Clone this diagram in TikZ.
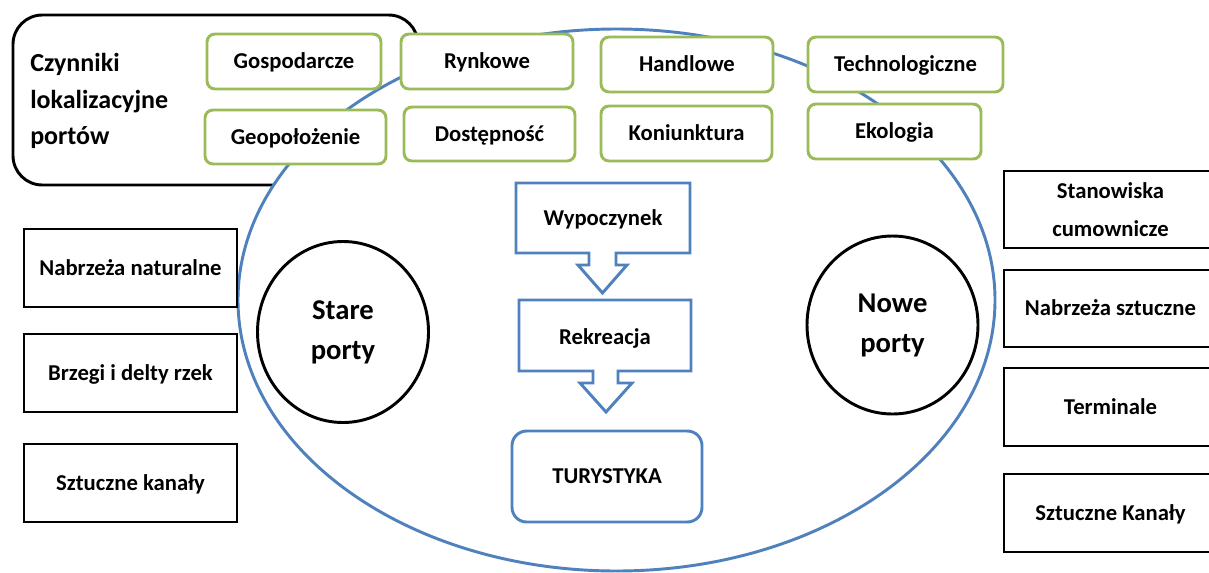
\documentclass[tikz,border=0pt]{standalone}
\usepackage{fontspec}
\setmainfont{Carlito}
\usetikzlibrary{shapes.geometric}
\definecolor{ogreen}{HTML}{9BBB59}
\definecolor{oblue}{HTML}{4F81BD}
\tikzset{
  sz/.style 2 args={minimum width=#1*0.75pt, minimum height=#2*0.75pt, inner sep=0pt, outer sep=0pt},
  txt/.style={font=\fontsize{17}{20}\selectfont\bfseries, align=center},
  oneline/.style={text height=11pt, text depth=0pt},
  gbox/.style={draw=ogreen, line width=2.2pt, rounded corners=6pt, fill=white, txt, oneline},
  kbox/.style={draw=black, line width=2.2pt, fill=white, txt},
  bshape/.style={draw=oblue, line width=2.2pt, fill=white, line join=miter},
  port/.style={ellipse, draw=black, line width=2.2pt, fill=white, align=center,
    font=\fontsize{21.5}{30}\selectfont\bfseries},
}
\begin{document}
\begin{tikzpicture}[x=0.75pt, y=-0.75pt]
\useasboundingbox (0,0) rectangle (1209,572);
\clip (0,0) rectangle (1209,572);
% factors frame
\node[draw=black, line width=2.2pt, rounded corners=22pt, sz={405}{170}] (czy) at (215.5,100) {};
\node[anchor=west, align=left, inner sep=0pt, font=\fontsize{19.5}{27.5}\selectfont\bfseries] (czyt) at (30,101) {Czynniki\\lokalizacyjne\\portów};
% big ellipse
\node[ellipse, draw=oblue, line width=2.2pt, fill=white, sz={757}{542}] (ell) at (616.5,300) {};
% green factor boxes
\node[gbox, sz={174}{55}] (gos) at (294,61.5) {Gospodarcze};
\node[gbox, sz={172}{55}] (ryn) at (487,61.5) {Rynkowe};
\node[gbox, sz={172}{55}] (han) at (687,64.5) {Handlowe};
\node[gbox, sz={195}{55}] (tec) at (905.5,64.5) {Technologiczne};
\node[gbox, sz={181}{54}] (geo) at (295.5,137) {Geopołożenie};
\node[gbox, sz={171}{54}] (dos) at (489.5,134) {Dostępność};
\node[gbox, sz={171}{55}] (kon) at (686.5,133.5) {Koniunktura};
\node[gbox, sz={173}{55}] (eko) at (894.5,131.5) {Ekologia};
% left boxes
\node[kbox, oneline, sz={213}{78}] (nn) at (130.5,268) {Nabrzeża naturalne};
\node[kbox, oneline, sz={213}{78}] (bd) at (130.5,373) {Brzegi i delty rzek};
\node[kbox, oneline, sz={213}{78}] (sk) at (130.5,483) {Sztuczne kanały};
% right boxes
\node[kbox, sz={213}{77}, font=\fontsize{17}{29}\selectfont\bfseries] (sc) at (1110.5,209.5) {Stanowiska\\cumownicze};
\node[kbox, oneline, sz={213}{77}] (ns) at (1110.5,308.5) {Nabrzeża sztuczne};
\node[kbox, oneline, sz={213}{78}] (te) at (1110.5,407) {Terminale};
\node[kbox, oneline, sz={213}{78}] (sK) at (1110.5,513) {Sztuczne Kanały};
% ports
\node[port, sz={171}{181}] (stare) at (343,332) {Stare\\porty};
\node[port, sz={171}{178}] (nowe) at (892.5,325) {Nowe\\porty};
% callouts
\draw[bshape] (516,183) -- (690,183) -- (690,253) -- (616,253) -- (616,265) -- (627,265) -- (602.5,293) -- (578,265) -- (589,265) -- (589,253) -- (516,253) -- cycle;
\node[txt, oneline, inner sep=0pt] (wyp) at (603,218) {Wypoczynek};
\draw[bshape] (519,300) -- (691,300) -- (691,371) -- (618,371) -- (618,383) -- (632,383) -- (606,412) -- (580,383) -- (593,383) -- (593,371) -- (519,371) -- cycle;
\node[txt, oneline, inner sep=0pt] (rek) at (605,337) {Rekreacja};
\node[draw=oblue, line width=2.2pt, rounded corners=11pt, fill=white, txt, oneline, sz={190}{91}] (tur) at (607,476.5) {TURYSTYKA};
\end{tikzpicture}
\end{document}
